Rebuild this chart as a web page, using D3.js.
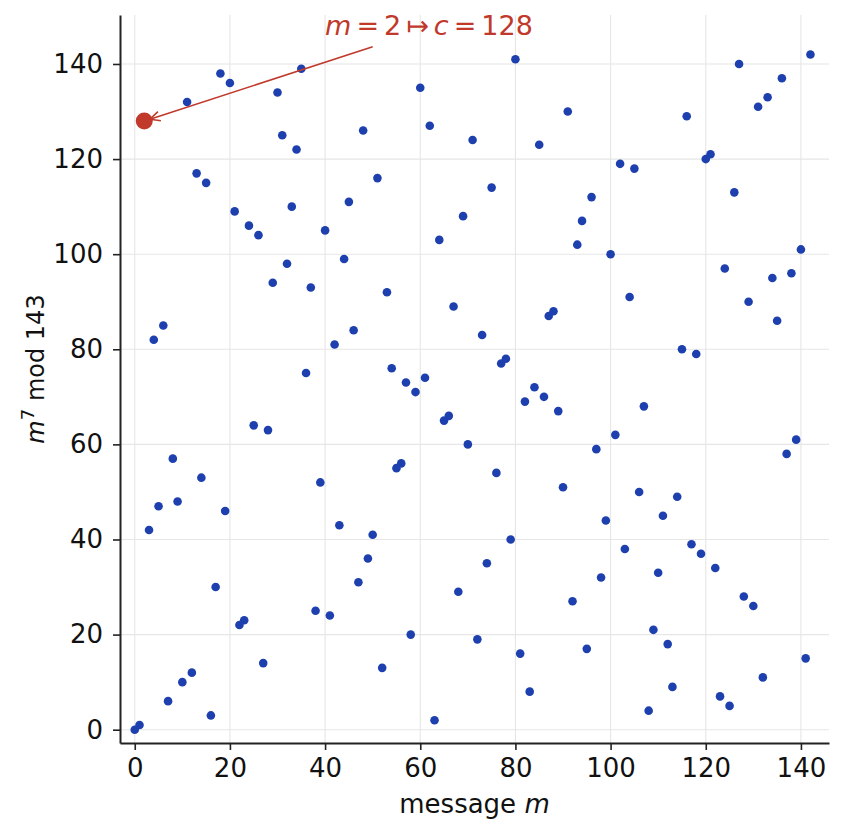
<!DOCTYPE html>
<html><head><meta charset="utf-8">
<script src="https://cdn.jsdelivr.net/npm/d3@7"></script>
<style>body{margin:0;background:#fff}svg{display:block}text{font-family:"DejaVu Sans",sans-serif}</style>
</head><body><svg id="c" width="844" height="836"></svg>
<script>
// c = m^7 mod 143, read for m = 0..142
const messages = d3.range(0, 143);
const ciphers = [0,1,128,42,82,47,85,6,57,48,
10,132,12,117,53,115,3,30,138,46,
136,109,22,23,106,64,104,14,63,94,
134,125,98,110,122,139,75,93,25,52,
105,24,81,43,99,111,84,31,126,36,
41,116,13,92,76,55,56,73,20,71,
135,74,127,2,103,65,66,89,29,108,
60,124,19,83,35,114,54,77,78,40,
141,16,69,8,72,123,70,87,88,67,
51,130,27,102,107,17,112,59,32,44,
100,62,119,38,91,118,50,68,4,21,
33,45,18,9,49,80,129,39,79,37,
120,121,34,7,97,5,113,140,28,90,
26,131,11,133,95,86,137,58,96,61,
101,15,142];
const xTicks = [0,20,40,60,80,100,120,140];
const yTicks = [0,20,40,60,80,100,120,140];
const highlight = {m: 2, c: 128};
const annText = {x: 40, y: 146};
const annTail = {x: 50, y: 143.6};

const svg = d3.select("#c");
const L = 120, R = 829, T = 15, B = 743;
const x = d3.scaleLinear().domain([-3.1, 145.9]).range([L, R]);
const y = d3.scaleLinear().domain([-2.8, 150.3]).range([B, T]);

// grid
const g = svg.append("g");
g.selectAll(".gx").data(xTicks).join("line")
  .attr("x1", d => x(d)).attr("x2", d => x(d)).attr("y1", T).attr("y2", B)
  .attr("stroke", "#e6e6e6").attr("stroke-width", 1.1);
g.selectAll(".gy").data(yTicks).join("line")
  .attr("y1", d => y(d)).attr("y2", d => y(d)).attr("x1", L).attr("x2", R)
  .attr("stroke", "#e6e6e6").attr("stroke-width", 1.1);

// points
svg.append("g").selectAll("circle").data(messages).join("circle")
  .attr("cx", d => x(d)).attr("cy", d => y(ciphers[d])).attr("r", 4.3)
  .attr("fill", "#1e40af");

// highlight
svg.append("circle").attr("cx", x(highlight.m)).attr("cy", y(highlight.c)).attr("r", 8.5).attr("fill", "#c0392b");

// axes
const fs = 26;
const xa = svg.append("g").attr("transform", `translate(0,${B})`)
  .call(d3.axisBottom(x).tickValues(xTicks).tickSize(7).tickPadding(9).tickSizeOuter(0));
const ya = svg.append("g").attr("transform", `translate(${L},0)`)
  .call(d3.axisLeft(y).tickValues(yTicks).tickSize(7).tickPadding(10).tickSizeOuter(0));
[xa, ya].forEach(a => {
  a.select(".domain").attr("stroke", "#222").attr("stroke-width", 2);
  a.selectAll(".tick line").attr("stroke", "#222").attr("stroke-width", 1.6);
  a.selectAll(".tick text").attr("font-size", fs).attr("fill", "#111").attr("font-family", "DejaVu Sans");
});

// axis labels
const xl = svg.append("text").attr("x", (L + R) / 2).attr("y", 813).attr("text-anchor", "middle")
  .attr("font-size", fs).attr("fill", "#111");
xl.append("tspan").text("message ");
xl.append("tspan").attr("font-style", "italic").text("m");

const yl = svg.append("text").attr("transform", `translate(44,${(T + B) / 2 - 10}) rotate(-90)`)
  .attr("text-anchor", "middle").attr("font-size", fs - 2).attr("fill", "#111");
yl.append("tspan").attr("font-style", "italic").text("m");
yl.append("tspan").attr("font-size", fs * 0.7).attr("dy", -10).text("7");
yl.append("tspan").attr("dy", 10).text(" mod 143");

// annotation arrow
const ax1 = x(annTail.x), ay1 = y(annTail.y);
const ax2 = x(highlight.m), ay2 = y(highlight.c);
const ang = Math.atan2(ay2 - ay1, ax2 - ax1);
const shrink = 6;
const ex = ax2 - Math.cos(ang) * shrink, ey = ay2 - Math.sin(ang) * shrink;
svg.append("line").attr("x1", ax1).attr("y1", ay1).attr("x2", ex).attr("y2", ey)
  .attr("stroke", "#c0392b").attr("stroke-width", 1.6);
const hl = 11, ha = 0.45;
const p1 = [ex - hl * Math.cos(ang - ha), ey - hl * Math.sin(ang - ha)];
const p2 = [ex - hl * Math.cos(ang + ha), ey - hl * Math.sin(ang + ha)];
svg.append("path").attr("d", `M${p1}L${ex},${ey}L${p2}`).attr("fill", "none")
  .attr("stroke", "#c0392b").attr("stroke-width", 1.6);

const at = svg.append("text").attr("x", x(annText.x)).attr("y", y(annText.y))
  .attr("font-size", 27).attr("fill", "#c0392b");
const gap = 5;
at.append("tspan").attr("font-style", "italic").text("m");
at.append("tspan").attr("dx", gap).text("=");
at.append("tspan").attr("dx", gap).text("2");
at.append("tspan").attr("dx", gap).text("↦");
at.append("tspan").attr("dx", gap).attr("font-style", "italic").text("c");
at.append("tspan").attr("dx", gap).text("=");
at.append("tspan").attr("dx", gap).text("128");
</script></body></html>
